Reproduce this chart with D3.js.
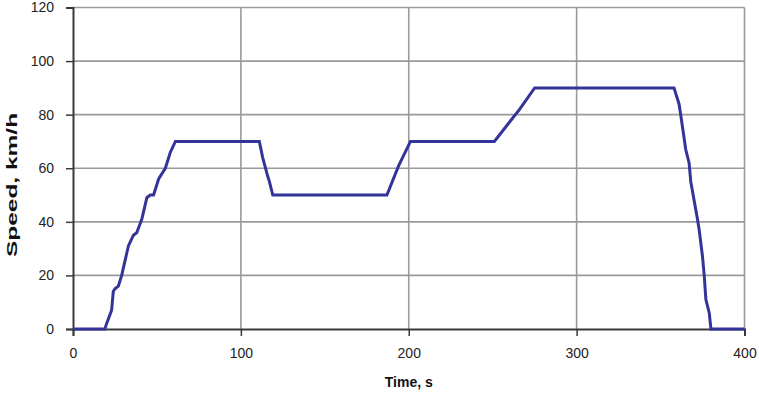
<!DOCTYPE html>
<html>
<head>
<meta charset="utf-8">
<script src="https://cdn.jsdelivr.net/npm/d3@7"></script>
<style>
  body { margin: 0; background: #fff; }
  svg { display: block; font-family: "Liberation Sans", Arial, sans-serif; }
</style>
</head>
<body>
<div id="chart"></div>
<script>
// speed trace (EUDC-like cycle)
const timeS = [0, 19, 20, 23, 24, 25, 27, 29, 33, 36, 38, 41, 44, 46, 48, 51, 55, 58, 61,
  111, 113, 116, 117, 119, 187, 194, 201, 251, 261, 266, 275,
  358, 361, 362, 365, 367, 368, 370, 372, 373, 375, 376, 377, 379, 380, 400];
const speedKmh = [0, 0, 2, 7, 14, 15, 16, 20, 31, 35, 36, 41, 49, 50, 50, 56, 60, 66, 70,
  70, 64, 57, 55, 50, 50, 61, 70, 70, 78, 82, 90,
  90, 84, 80, 67, 62, 55, 48, 41, 37, 27, 20, 11, 6, 0, 0];
const xTicks = [0, 100, 200, 300, 400];
const yTicks = [0, 20, 40, 60, 80, 100, 120];

const width = 759, height = 398;
const margin = { top: 7.5, right: 14.5, bottom: 69, left: 73 };
const w = width - margin.left - margin.right;
const h = height - margin.top - margin.bottom;

const data = timeS.map((t, i) => ({ t: t, v: speedKmh[i] }));

const svg = d3.select("#chart").append("svg")
  .attr("width", width)
  .attr("height", height);

const chart = svg.append("g")
  .attr("transform", `translate(${margin.left}, ${margin.top})`);

const x = d3.scaleLinear().domain([0, 400]).range([0, w]);
const y = d3.scaleLinear().domain([0, 120]).range([h, 0]);

// gridlines
chart.append("g")
  .selectAll("line.hg")
  .data(yTicks.filter(d => d > 0))
  .join("line")
  .attr("x1", 0).attr("x2", w)
  .attr("y1", d => y(d)).attr("y2", d => y(d))
  .attr("stroke", "#9a9a9a")
  .attr("stroke-width", 1.6);

chart.append("g")
  .selectAll("line.vg")
  .data(xTicks.filter(d => d > 0))
  .join("line")
  .attr("x1", d => x(d)).attr("x2", d => x(d))
  .attr("y1", 0).attr("y2", h)
  .attr("stroke", "#9a9a9a")
  .attr("stroke-width", 1.6);

// axes
const yAxis = chart.append("g")
  .call(d3.axisLeft(y).tickValues(yTicks).tickSize(7).tickPadding(12));
const xAxis = chart.append("g")
  .attr("transform", `translate(0, ${h})`)
  .call(d3.axisBottom(x).tickValues(xTicks).tickSize(7).tickPadding(12));

[xAxis, yAxis].forEach(a => {
  a.select(".domain").attr("stroke", "#3a3a3a").attr("stroke-width", 2);
  a.selectAll(".tick line").attr("stroke", "#3a3a3a").attr("stroke-width", 1.5);
  a.selectAll(".tick text")
    .attr("fill", "#222")
    .style("font-size", "14px")
    .style("font-family", "'Liberation Sans', Arial, sans-serif");
});

// speed line
chart.append("path")
  .datum(data)
  .attr("fill", "none")
  .attr("stroke", "#333399")
  .attr("stroke-width", 3)
  .attr("d", d3.line().x(d => x(d.t)).y(d => y(d.v)));

// axis titles
chart.append("text")
  .attr("x", w / 2)
  .attr("y", h + 58)
  .attr("text-anchor", "middle")
  .style("font-size", "14px")
  .style("font-weight", "bold")
  .attr("fill", "#111")
  .text("Time, s");

svg.append("text")
  .attr("transform", `translate(17, ${185}) rotate(-90) scale(1.75, 1)`)
  .attr("text-anchor", "middle")
  .style("font-size", "14px")
  .style("font-weight", "bold")
  .attr("fill", "#111")
  .text("Speed, km/h");
</script>
</body>
</html>
